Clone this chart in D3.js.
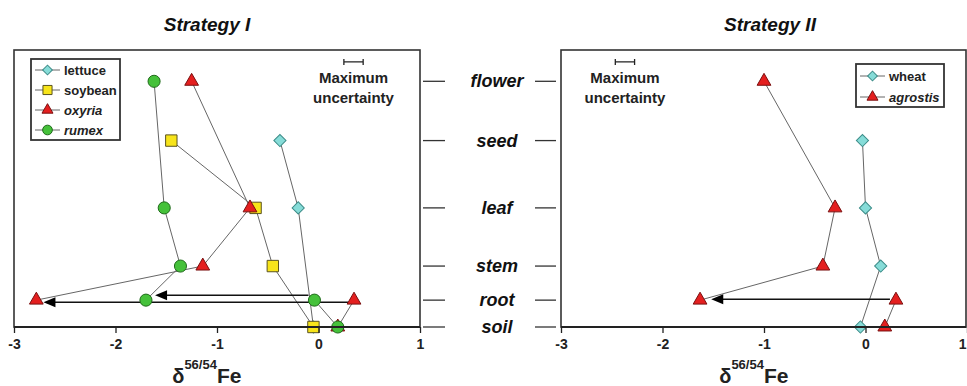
<!DOCTYPE html>
<html>
<head>
<meta charset="utf-8">
<script src="https://cdn.jsdelivr.net/npm/d3@7/dist/d3.min.js"></script>
<style>
  html, body { margin: 0; padding: 0; background: #fff; }
  svg { display: block; font-family: "Liberation Sans", Arial, Helvetica, sans-serif; }
</style>
</head>
<body>
<svg id="chart" width="967" height="386"></svg>
<script>
// ---------- data ----------
const organs   = ["soil", "root", "stem", "leaf", "seed", "flower"];
const organPos = [0, 0.97, 2.2, 4.3, 6.73, 8.87];   // vertical position of each organ (arbitrary units)
const xTicks   = [-3, -2, -1, 0, 1];

// values in order of `organs`; null = not measured
const lettuce  = [-0.05, null, null, -0.20, -0.38, null];
const soybean  = [-0.05, null, -0.45, -0.62, -1.45, null];
const oxyria   = [0.19, -2.78, -1.14, -0.675, null, -1.25];
const rumex    = [0.19, -1.70, -1.36, -1.52, null, -1.62];
const wheat    = [-0.05, null, 0.15, 0.00, -0.03, null];
const agrostis = [0.19, -1.63, -0.42, -0.30, null, -1.00];

// bulk-root values (start of the arrows) and arrow end values
const oxyriaRootBulk   = 0.35,  oxyriaArrowTo   = -2.71;
const rumexRootBulk    = -0.04, rumexArrowTo    = -1.61;
const agrostisRootBulk = 0.30,  agrostisArrowTo = -1.52;

// maximum uncertainty (width in delta units) and its placement
const uncertainty = 0.19;
const uncertaintyPos = { left: 0.345, right: -2.37, level: 9.57 };

// ---------- styles ----------
const styles = {
  lettuce:  { type: "diamond",  fill: "#86dcd8", stroke: "#3c8c88", italic: false },
  soybean:  { type: "square",   fill: "#f7e41a", stroke: "#5a5320", italic: false },
  oxyria:   { type: "triangle", fill: "#e41f1f", stroke: "#7a1010", italic: true },
  rumex:    { type: "circle",   fill: "#45c13a", stroke: "#1f6a1a", italic: true },
  wheat:    { type: "diamond",  fill: "#86dcd8", stroke: "#3c8c88", italic: false },
  agrostis: { type: "triangle", fill: "#e41f1f", stroke: "#7a1010", italic: true }
};

const svg = d3.select("#chart");
const FONT = "'Liberation Sans', Arial, Helvetica, sans-serif";

const y = d3.scaleLinear().domain([0, 10]).range([327, 50]);

function symbolPath(type, big) {
  const k = big ? 1 : 0.8;
  if (type === "circle")   return d3.symbol().type(d3.symbolCircle).size(115 * k * k)();
  if (type === "square")   return d3.symbol().type(d3.symbolSquare).size(130 * k * k)();
  if (type === "triangle") return d3.symbol().type(d3.symbolTriangle).size(82 * k * k)();
  if (type === "diamond")  return d3.symbol().type(d3.symbolSquare).size(74 * k * k)();
}
function drawMarker(g, type, cx, cy, st, big) {
  g.append("path")
    .attr("d", symbolPath(type, big))
    .attr("transform", `translate(${cx},${cy})` + (type === "diamond" ? " rotate(45)" : ""))
    .attr("fill", st.fill)
    .attr("stroke", st.stroke)
    .attr("stroke-width", 1);
}

function drawPanel(opt) {
  const x = d3.scaleLinear().domain([-3, 1]).range(opt.range);
  const g = svg.append("g");
  const [x0, x1] = opt.range;
  const frameRight = opt.frameRight || x1;

  // frame
  g.append("rect")
    .attr("x", x0).attr("y", y(10))
    .attr("width", frameRight - x0).attr("height", y(0) - y(10))
    .attr("fill", "none").attr("stroke", "#333").attr("stroke-width", 1.6);

  // title
  g.append("text")
    .attr("x", (x0 + x1) / 2 + opt.titleShift).attr("y", 31)
    .attr("text-anchor", "middle")
    .attr("font-family", FONT).attr("font-size", 19)
    .attr("font-weight", "bold").attr("font-style", "italic")
    .attr("fill", "#111")
    .text(opt.title);

  // series lines
  const line = d3.line().x(d => x(d.v)).y(d => y(d.p));
  opt.series.forEach(s => {
    const pts = organs.map((o, i) => ({ o, v: s.values[i], p: organPos[i] }))
                      .filter(d => d.v !== null);
    let main = pts;
    if (s.rootBulk !== undefined) {
      main = pts.filter(d => d.o !== "soil");
      const soil = pts.find(d => d.o === "soil");
      g.append("path")
        .attr("d", line([{ v: s.rootBulk, p: organPos[1] }, soil]))
        .attr("fill", "none").attr("stroke", "#666").attr("stroke-width", 1);
    }
    g.append("path")
      .attr("d", line(main.slice().reverse()))
      .attr("fill", "none").attr("stroke", "#666").attr("stroke-width", 1);
  });

  // arrows
  opt.series.forEach(s => {
    if (s.rootBulk === undefined) return;
    const yy = y(organPos[1]) + s.arrowDy;
    const xs = x(s.rootBulk) - 6;
    const xe = x(s.arrowTo);
    g.append("line")
      .attr("x1", xs).attr("x2", xe + 8).attr("y1", yy).attr("y2", yy)
      .attr("stroke", "#111").attr("stroke-width", 1.5);
    g.append("path")
      .attr("d", `M${xe},${yy} L${xe + 12},${yy - 5} L${xe + 12},${yy + 5} Z`)
      .attr("fill", "#000");
  });

  // markers
  opt.series.forEach(s => {
    const st = styles[s.name];
    organs.forEach((o, i) => {
      if (s.values[i] === null) return;
      drawMarker(g, st.type, x(s.values[i]), y(organPos[i]), st, true);
    });
    if (s.rootBulk !== undefined) drawMarker(g, st.type, x(s.rootBulk), y(organPos[1]), st, true);
  });

  // bottom axis
  const axis = d3.axisBottom(x).tickValues(xTicks).tickSize(6).tickSizeOuter(0)
    .tickPadding(6).tickFormat(d => String(d));
  const ag = g.append("g").attr("transform", `translate(0,${y(0)})`).call(axis);
  ag.select(".domain").attr("stroke", "#222").attr("stroke-width", 2)
    .attr("d", `M${x0},0H${frameRight}`);
  ag.selectAll(".tick line").attr("stroke", "#222").attr("stroke-width", 1.3);
  ag.selectAll(".tick text").attr("font-family", FONT).attr("font-size", 14)
    .attr("font-weight", "bold").attr("fill", "#222");
  if (opt.clipLastTick) {
    // keep the last label inside the picture
    ag.selectAll(".tick text").filter(d => d === 1)
      .attr("text-anchor", "end").attr("dx", -1);
  }

  // axis title δ56/54Fe
  const t = g.append("text")
    .attr("x", x(-1.1)).attr("y", 383)
    .attr("text-anchor", "middle")
    .attr("font-family", FONT).attr("font-weight", "bold").attr("fill", "#222");
  t.append("tspan").attr("font-size", 20).text("δ");
  t.append("tspan").attr("font-size", 13).attr("dy", -14).text("56/54");
  t.append("tspan").attr("font-size", 21).attr("dy", 14).text("Fe");

  // maximum uncertainty
  const ux = x(opt.uncertaintyX);
  const uy = y(uncertaintyPos.level);
  const hw = (x(uncertainty) - x(0)) / 2;
  g.append("path")
    .attr("d", `M${ux - hw},${uy - 3}V${uy + 3}M${ux - hw},${uy}H${ux + hw}M${ux + hw},${uy - 3}V${uy + 3}`)
    .attr("stroke", "#222").attr("stroke-width", 1.3).attr("fill", "none");
  ["Maximum", "uncertainty"].forEach((w, i) => {
    g.append("text")
      .attr("x", ux).attr("y", 83 + i * 20)
      .attr("text-anchor", "middle")
      .attr("font-family", FONT).attr("font-size", 15).attr("font-weight", "bold")
      .attr("fill", "#222").text(w);
  });

  // legend
  const L = opt.legend;
  g.append("rect")
    .attr("x", L.x).attr("y", L.y).attr("width", L.w).attr("height", L.h)
    .attr("fill", "#fff").attr("stroke", "#333").attr("stroke-width", 1.8);
  opt.series.forEach((s, i) => {
    const st = styles[s.name];
    const ly = L.y + L.first + i * L.step;
    g.append("line")
      .attr("x1", L.x + 4).attr("x2", L.x + 29).attr("y1", ly).attr("y2", ly)
      .attr("stroke", "#666").attr("stroke-width", 1);
    drawMarker(g, st.type, L.x + 16.5, ly, st, false);
    g.append("text")
      .attr("x", L.x + 33).attr("y", ly + 4.5)
      .attr("font-family", FONT).attr("font-size", 13).attr("font-weight", "bold")
      .attr("font-style", st.italic ? "italic" : "normal")
      .attr("fill", "#222").text(s.name);
  });
}

drawPanel({
  title: "Strategy I",
  titleShift: -10,
  range: [14, 420],
  uncertaintyX: uncertaintyPos.left,
  legend: { x: 31, y: 59, w: 89, h: 81, first: 11, step: 20 },
  series: [
    { name: "lettuce", values: lettuce },
    { name: "soybean", values: soybean },
    { name: "oxyria",  values: oxyria, rootBulk: oxyriaRootBulk, arrowTo: oxyriaArrowTo, arrowDy: 2 },
    { name: "rumex",   values: rumex,  rootBulk: rumexRootBulk,  arrowTo: rumexArrowTo,  arrowDy: -5 }
  ]
});

drawPanel({
  title: "Strategy II",
  titleShift: 6,
  range: [561, 967],
  frameRight: 966,
  clipLastTick: true,
  uncertaintyX: uncertaintyPos.right,
  legend: { x: 856, y: 64, w: 88, h: 43, first: 12, step: 21 },
  series: [
    { name: "wheat",    values: wheat },
    { name: "agrostis", values: agrostis, rootBulk: agrostisRootBulk, arrowTo: agrostisArrowTo, arrowDy: -1 }
  ]
});

// organ labels between the panels
const mid = svg.append("g");
organs.forEach((o, i) => {
  const yy = y(organPos[i]);
  mid.append("line").attr("x1", 423).attr("x2", 445).attr("y1", yy).attr("y2", yy)
    .attr("stroke", "#333").attr("stroke-width", 1.3);
  mid.append("line").attr("x1", 535).attr("x2", 556).attr("y1", yy).attr("y2", yy)
    .attr("stroke", "#333").attr("stroke-width", 1.3);
  mid.append("text")
    .attr("x", 497).attr("y", yy + 6)
    .attr("text-anchor", "middle")
    .attr("font-family", FONT).attr("font-size", 18)
    .attr("font-weight", "bold").attr("font-style", "italic")
    .attr("fill", "#111").text(o);
});
</script>
</body>
</html>
